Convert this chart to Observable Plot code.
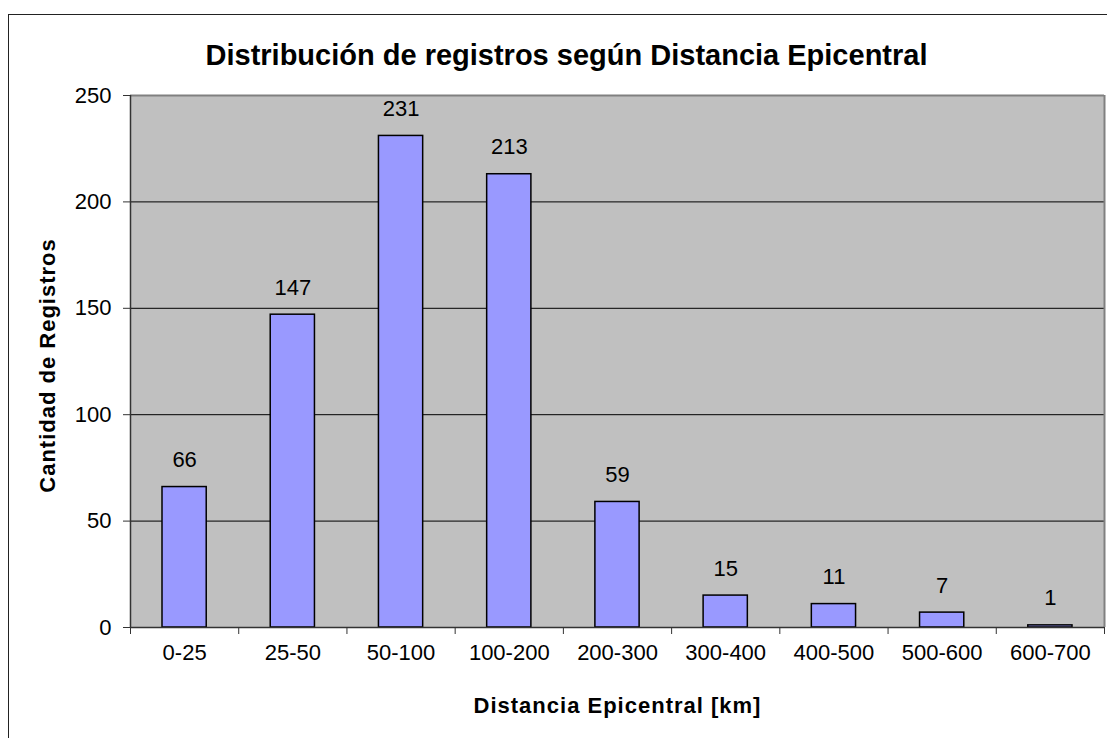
<!DOCTYPE html>
<html><head><meta charset="utf-8">
<script src="https://cdn.jsdelivr.net/npm/d3@7"></script>
<script src="https://cdn.jsdelivr.net/npm/@observablehq/plot@0.6"></script>
<style>
html,body{margin:0;padding:0;background:#fff;overflow:hidden;width:1107px;height:738px}
#wrap{position:relative;width:1107px;height:738px;font-family:"Liberation Sans",Arial,sans-serif;overflow:hidden}
#border{position:absolute;left:8px;top:14px;width:1300px;height:900px;border:1.5px solid #222;box-sizing:border-box}
#title{position:absolute;left:0;width:1133px;top:41px;text-align:center;font-weight:bold;font-size:29px;line-height:1;color:#000}
#chart{position:absolute;left:0;top:0}
g[font-weight="bold"] text{letter-spacing:1px}
</style></head><body>
<div id="wrap"><div id="border"></div><div id="chart"></div><div id="title"></div></div>
<script>
const categories = ["0-25","25-50","50-100","100-200","200-300","300-400","400-500","500-600","600-700"];
const counts = [66,147,231,213,59,15,11,7,1];
const yTicks = [0,50,100,150,200,250];
const titleText = "Distribución de registros según Distancia Epicentral";
const xLabel = "Distancia Epicentral [km]";
const yLabel = "Cantidad de Registros";

document.getElementById("title").textContent = titleText;
const data = categories.map((c,i)=>({cat:c, i, n:counts[i]}));
const boundaries = d3.range(categories.length+1);
const yMax = yTicks[yTicks.length-1];

const chart = Plot.plot({
  width:1107, height:738, marginLeft:130, marginRight:3, marginTop:95, marginBottom:111,
  style:{fontFamily:"'Liberation Sans', Arial, sans-serif", fontSize:"22px", background:"transparent", color:"#000"},
  x:{type:"linear", domain:[0,categories.length]},
  y:{domain:[0,yMax]},
  marks:[
    Plot.frame({fill:"#C0C0C0", stroke:null}),
    Plot.ruleY(yTicks.filter(v=>v>0 && v<yMax), {stroke:"#000", strokeWidth:1}),
    Plot.ruleY([yMax], {stroke:"#808080", strokeWidth:2}),
    Plot.ruleX([categories.length], {stroke:"#808080", strokeWidth:2}),
    Plot.rect(data, {x1:"i", x2:d=>d.i+1, y1:0, y2:"n", insetLeft:32, insetRight:32, fill:"#9999FF", stroke:"#000", strokeWidth:1.5}),
    Plot.ruleX([0], {stroke:"#333", strokeWidth:1.5}),
    Plot.ruleY([0], {stroke:"#333", strokeWidth:1.5}),
    Plot.axisY({ticks:yTicks, tickSize:7, tickPadding:12, tickFormat:d=>String(d), label:null, stroke:"#333", fill:"#000", fontSize:22}),
    Plot.axisX({ticks:boundaries, tickSize:7, tickFormat:()=>"", label:null, stroke:"#333"}),
    Plot.text(data, {x:d=>d.i+0.5, y:0, text:"cat", dy:25, lineAnchor:"middle", fontSize:22, fill:"#000"}),
    Plot.text(data, {x:d=>d.i+0.5, y:"n", text:d=>String(d.n), dy:-27, lineAnchor:"middle", fontSize:22, fill:"#000"}),
    Plot.text([xLabel], {frameAnchor:"bottom", dy:78, lineAnchor:"middle", fontWeight:"bold", fontSize:22, fill:"#000"}),
    Plot.text([yLabel], {frameAnchor:"left", textAnchor:"middle", rotate:-90, dx:-83, dy:4, lineAnchor:"middle", fontWeight:"bold", fontSize:22, fill:"#000"})
  ]
});
document.getElementById("chart").appendChild(chart);
</script>
</body></html>
